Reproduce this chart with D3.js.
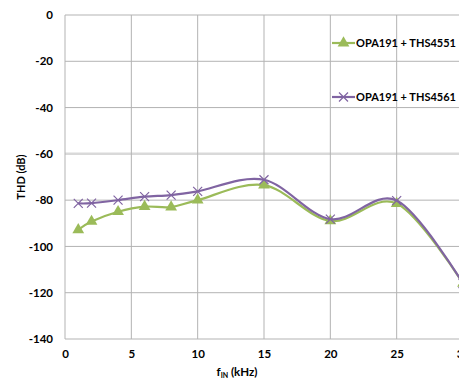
<!DOCTYPE html>
<html>
<head>
<meta charset="utf-8">
<script src="https://cdn.jsdelivr.net/npm/d3@7"></script>
<style>
  body { margin: 0; background: #fff; }
  svg { display: block; font-family: Lato, "Open Sans", sans-serif; font-weight: bold; }
</style>
</head>
<body>
<div id="chart"></div>
<script>
const freqs = [1, 2, 4, 6, 8, 10, 15, 20, 25, 30];
const thd4551 = [-92.8, -89.2, -85, -82.8, -83, -80, -73.5, -89, -81.5, -116];
const thd4561 = [-81.4, -81.3, -80, -78.5, -77.8, -76.2, -71.2, -88.2, -80.2, -116];
const xTicks = [0, 5, 10, 15, 20, 25, 30];
const yTicks = [0, -20, -40, -60, -80, -100, -120, -140];

const series = [
  { name: 'OPA191 + THS4551', values: thd4551, color: '#9bbb59', marker: 'triangle' },
  { name: 'OPA191 + THS4561', values: thd4561, color: '#8064a2', marker: 'x' },
];

const width = 459;
const height = 382;
const margin = { top: 15, right: -4, bottom: 43, left: 65 };

const svg = d3.select('#chart').append('svg')
  .attr('width', width)
  .attr('height', height);

const xScale = d3.scaleLinear()
  .domain([0, 30])
  .range([margin.left, width - margin.right]);

const yScale = d3.scaleLinear()
  .domain([-140, 0])
  .range([height - margin.bottom, margin.top]);

// gridlines
const grid = svg.append('g').attr('class', 'grid');
grid.selectAll('line.h')
  .data(yTicks)
  .join('line')
  .attr('class', 'h')
  .attr('x1', margin.left)
  .attr('x2', width)
  .attr('y1', (d) => yScale(d))
  .attr('y2', (d) => yScale(d))
  .attr('stroke', (d) => (d === -60 ? '#d9d9d9' : '#b3b3b3'))
  .attr('stroke-width', (d) => (d === -60 ? 2.5 : 1));

grid.selectAll('line.v')
  .data(xTicks)
  .join('line')
  .attr('class', 'v')
  .attr('x1', (d) => xScale(d))
  .attr('x2', (d) => xScale(d))
  .attr('y1', margin.top)
  .attr('y2', height - margin.bottom)
  .attr('stroke', '#b3b3b3');

// axes
svg.append('g')
  .attr('transform', `translate(0, ${height - margin.bottom})`)
  .call(d3.axisBottom(xScale).tickValues(xTicks).tickFormat((d) => String(d)).tickSize(0).tickPadding(11))
  .call((g) => g.select('.domain').remove())
  .selectAll('text')
  .attr('font-size', 11.5)
  .attr('font-family', 'Lato, sans-serif')
  .attr('font-weight', 'bold')
  .attr('fill', '#000');

svg.append('g')
  .attr('transform', `translate(${margin.left}, 0)`)
  .call(d3.axisLeft(yScale).tickValues(yTicks).tickFormat((d) => String(d)).tickSize(0).tickPadding(12))
  .call((g) => g.select('.domain').remove())
  .selectAll('text')
  .attr('font-size', 11.5)
  .attr('font-family', 'Lato, sans-serif')
  .attr('font-weight', 'bold')
  .attr('fill', '#000');

// axis titles
svg.append('text')
  .attr('transform', `translate(25, ${yScale(-70)}) rotate(-90)`)
  .attr('text-anchor', 'middle')
  .attr('font-size', 11)
  .text('THD (dB)');

const xTitle = svg.append('text')
  .attr('x', 237)
  .attr('y', 376)
  .attr('text-anchor', 'middle')
  .attr('font-size', 11.5);
xTitle.append('tspan').text('f');
xTitle.append('tspan').attr('font-size', 7).attr('dy', 2).text('IN');
xTitle.append('tspan').attr('dy', -2).text(' (kHz)');

// lines
const line = d3.line()
  .x((d, i) => xScale(freqs[i]))
  .y((d) => yScale(d))
  .curve(d3.curveCardinal.tension(0));

const plot = svg.append('g');

function drawMarker(g, type, color, x, y) {
  if (type === 'triangle') {
    g.append('path')
      .attr('d', d3.symbol(d3.symbolTriangle, 60)())
      .attr('transform', `translate(${x}, ${y})`)
      .attr('fill', color);
  } else {
    g.append('path')
      .attr('d', `M${x - 4.5},${y - 4.5}L${x + 4.5},${y + 4.5}M${x - 4.5},${y + 4.5}L${x + 4.5},${y - 4.5}`)
      .attr('stroke', color)
      .attr('stroke-width', 1.2)
      .attr('fill', 'none');
  }
}

series.forEach((s) => {
  plot.append('path')
    .datum(s.values)
    .attr('d', line)
    .attr('fill', 'none')
    .attr('stroke', s.color)
    .attr('stroke-width', 2.2);

  const mg = plot.append('g');
  s.values.forEach((v, i) => {
    drawMarker(mg, s.marker, s.color, xScale(freqs[i]), yScale(v));
  });
});

// legend
const legendY = [43, 97];
series.forEach((s, i) => {
  const g = svg.append('g');
  const y = legendY[i];
  g.append('line')
    .attr('x1', 332).attr('x2', 355)
    .attr('y1', y).attr('y2', y)
    .attr('stroke', s.color)
    .attr('stroke-width', 2.2);
  drawMarker(g, s.marker, s.color, 343.5, y);
  g.append('text')
    .attr('x', 356)
    .attr('y', y + 4)
    .attr('font-size', 11)
    .attr('fill', '#000')
    .text(s.name);
});
</script>
</body>
</html>
